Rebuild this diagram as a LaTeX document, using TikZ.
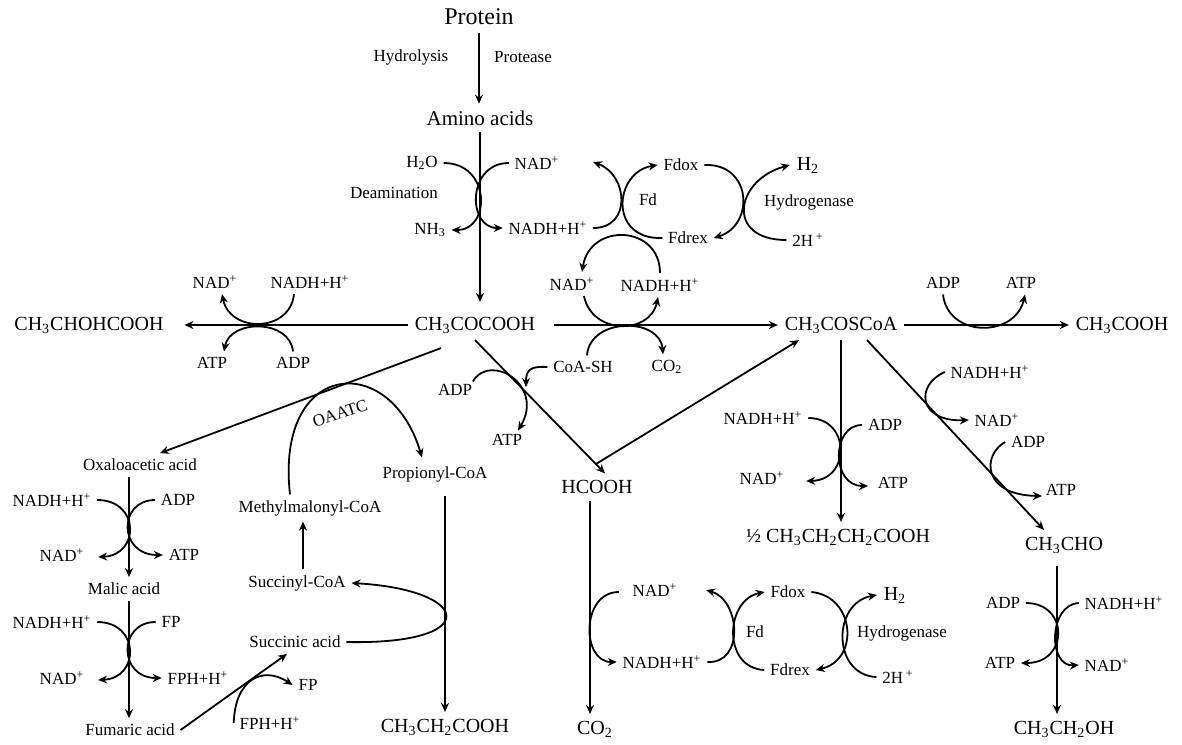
\documentclass[tikz,border=0pt]{standalone}
\usepackage{fontspec}
\setmainfont{Liberation Serif}
\usetikzlibrary{arrows.meta, positioning, calc}

\tikzset{
    chem/.style={font=\fontsize{10}{12}\selectfont, inner sep=3pt},
    cofac/.style={font=\fontsize{8.5}{10}\selectfont, inner sep=2.5pt},
}

\begin{document}
\begin{tikzpicture}[x=0.5pt, y=-0.5pt, >={Stealth[length=4.5pt,width=4pt]}, line width=0.9pt]
    \useasboundingbox (0,0) rectangle (1182,744);

    % protein -> pyruvate
    \node[font=\fontsize{12}{14}\selectfont] (protein) at (479,17) {Protein};
    \node[cofac] (hydro) at (411,57) {Hydrolysis};
    \node[cofac] (protease) at (523,57) {Protease};
    \node[chem, font=\fontsize{10.5}{13}\selectfont] (amino) at (480,118) {Amino acids};
    \node[chem] (pyr) at (475,325) {CH\textsubscript{3}COCOOH};
    \draw[->] (protein.south) -- (protein.south |- amino.north);
    \draw[->, shorten >=4pt] (amino.south) -- (amino.south |- pyr.north);

    \node[cofac] (h2o) at (422,163) {H\textsubscript{2}O};
    \node[cofac] (deam) at (394,193) {Deamination};
    \node[cofac] (nh3) at (430,230) {NH\textsubscript{3}};
    \node[cofac] (nadA) at (537,163) {NAD\textsuperscript{+}};
    \node[cofac] (nadhA) at (548,228) {NADH+H\textsuperscript{+}};
    \draw[->] (h2o.east) .. controls (491,163) and (491,230) .. (nh3.east);
    \draw[->] (nadA.west) .. controls (467,163) and (467,228) .. (nadhA.west);

    % ferredoxin and hydrogenase, top
    \node[cofac] (fd1) at (648,200) {Fd};
    \node[cofac] (fdox1) at (681,165) {Fdox};
    \node[cofac] (fdrex1) at (688,238) {Fdrex};
    \node[chem] (h2a) at (808,165) {H\textsubscript{2}};
    \node[cofac] (hyd1) at (809,202) {Hydrogenase};
    \node[cofac] (twoh1) at (808,240) {2H\,\textsuperscript{+}};
    \node[cofac] (nadB) at (572,284) {NAD\textsuperscript{+}};
    \node[cofac] (nadhB) at (660,285) {NADH+H\textsuperscript{+}};
    \draw[->] (nadhA.east) .. controls (632,228) and (628,175) .. ($(nadA.east)+(28,-1)$);
    \draw[->] (fdrex1.west) .. controls (608,240) and (614,172) .. (fdox1.west);
    \draw[->] (nadhB.north) .. controls (660,225) and (590,222) .. ($(nadB.north)+(10,0)$);
    \draw[->] (fdox1.east) .. controls (752,163) and (755,225) .. (fdrex1.east);
    \draw[->] (twoh1.west) .. controls (725,240) and (735,180) .. (h2a.west);

    % pyruvate -> acetyl-CoA
    \node[cofac] (coash) at (583,367) {CoA-SH};
    \node[cofac] (co2a) at (667,367) {CO\textsubscript{2}};
    \node[chem] (acoa) at (841,325) {CH\textsubscript{3}COSCoA};
    \coordinate (hookend) at (526,387);
    \draw[->, shorten <=6pt] (pyr.east) -- (acoa.west);
    \draw[->] ($(nadB.south)+(12,0)$) .. controls (592,335) and (650,335) .. ($(nadhB.south)+(-2,0)$);
    \draw[->] ($(coash.north)+(4,0)$) .. controls (590,317) and (660,317) .. ($(co2a.north)+(-4,0)$);
    \draw[->] (coash.west) .. controls (530,366) and (526,370) .. (hookend);

    % formate branch
    \node[cofac] (adpM) at (455,390) {ADP};
    \node[cofac] (atpM) at (507,440) {ATP};
    \node[chem] (hcooh) at (597,487) {HCOOH};
    \draw[->] (pyr.south) -- ([xshift=4pt]hcooh.north);
    \draw[->] ($(adpM.north east)+(-5,3)$) .. controls (490,352) and (545,385) .. ($(atpM.north)+(11,2)$);
    \coordinate (turn) at ($(pyr.south)!0.93!([xshift=4pt]hcooh.north)$);
    \draw[->] (turn) -- ([xshift=-21pt]acoa.south);

    % lactate
    \node[chem] (lac) at (89,325) {CH\textsubscript{3}CHOHCOOH};
    \node[cofac] (nadL) at (215,282) {NAD\textsuperscript{+}};
    \node[cofac] (nadhL) at (310,282) {NADH+H\textsuperscript{+}};
    \node[cofac] (atpL) at (212,363) {ATP};
    \node[cofac] (adpL) at (293,363) {ADP};
    \draw[->, shorten >=7pt] (pyr.west) -- (lac.east);
    \draw[->] ($(nadhL.south)+(-16,0)$) .. controls (290,333) and (230,333) .. ($(nadL.south)+(7,0)$);
    \draw[->] (adpL.north) .. controls (290,319) and (230,319) .. ($(atpL.north)+(12,0)$);

    % acetate
    \node[chem] (acet) at (1122,325) {CH\textsubscript{3}COOH};
    \node[cofac] (adpR) at (943,283) {ADP};
    \node[cofac] (atpR) at (1021,283) {ATP};
    \draw[->] (acoa.east) -- (acoa.east -| acet.west);
    \draw[->] (adpR.south) .. controls (948,338) and (1015,338) .. ($(atpR.south)+(4,0)$);

    % propionate
    \node[cofac] (oaa) at (140,465) {Oxaloacetic acid};
    \node[cofac] (prop) at (435,474) {Propionyl-CoA};
    \node[cofac] (mmcoa) at (310,508) {Methylmalonyl-CoA};
    \node[cofac, rotate=18] (oaatc) at (340,413) {OAATC};
    \node[cofac] (sucoa) at (297,583) {Succinyl-CoA};
    \node[cofac] (sucac) at (295,642) {Succinic acid};
    \node[chem] (propac) at (445,727) {CH\textsubscript{3}CH\textsubscript{2}COOH};
    \draw[->] ([xshift=-17pt,yshift=-4pt]pyr.south) -- ([xshift=10pt]oaa.north);
    \draw[->] ($(mmcoa.north)+(-20,0)$) .. controls (275,360) and (390,350) .. ($(prop.north)+(-13,-3)$);
    \draw[->] ($(sucoa.north)+(6,0)$) -- ($(sucoa.north |- mmcoa.south)+(6,0)$);
    \draw[->] (sucac.east) .. controls (483,645) and (473,590) .. (sucoa.east);
    \draw[->, shorten <=4pt] (propac.north |- prop.south) -- (propac.north);

    % oxaloacetate -> fumarate
    \node[cofac] (nadhO) at (52,500) {NADH+H\textsuperscript{+}};
    \node[cofac] (adpO) at (178,500) {ADP};
    \node[cofac] (nadO) at (62,555) {NAD\textsuperscript{+}};
    \node[cofac] (atpO) at (184,555) {ATP};
    \node[cofac] (malic) at (124,589) {Malic acid};
    \node[cofac] (nadhM) at (52,622) {NADH+H\textsuperscript{+}};
    \node[cofac] (fpM) at (171,622) {FP};
    \node[cofac] (nadM) at (62,678) {NAD\textsuperscript{+}};
    \node[cofac] (fphM) at (198,678) {FPH+H\textsuperscript{+}};
    \node[cofac] (fum) at (130,730) {Fumaric acid};
    \coordinate (colL) at ($(oaa.south)+(-11,0)$);
    \draw[->] (colL) -- (colL |- malic.north);
    \draw[->] (colL |- malic.south) -- (colL |- fum.north);
    \draw[->] (nadhO.east) .. controls (140,500) and (140,555) .. ($(nadO.east)+(8,2)$);
    \draw[->] (adpO.west) .. controls (118,500) and (118,555) .. (atpO.west);
    \draw[->] (nadhM.east) .. controls (140,622) and (140,678) .. ($(nadM.east)+(8,2)$);
    \draw[->] (fpM.west) .. controls (118,622) and (118,678) .. (fphM.west);

    \node[cofac] (fph2) at (270,723) {FPH+H\textsuperscript{+}};
    \node[cofac] (fp2) at (308,685) {FP};
    \draw[->] (fum.east) -- ([xshift=-4pt]sucac.south);
    \draw[->] (fph2.west) .. controls (235,680) and (262,665) .. (fp2.west);

    % formate -> CO2 + H2
    \node[chem] (co2b) at (595,729) {CO\textsubscript{2}};
    \node[cofac] (nadC) at (655,590) {NAD\textsuperscript{+}};
    \node[cofac] (nadhC) at (662,662) {NADH+H\textsuperscript{+}};
    \node[cofac] (fd2) at (755,632) {Fd};
    \node[cofac] (fdox2) at (788,592) {Fdox};
    \node[cofac] (fdrex2) at (790,670) {Fdrex};
    \node[chem] (h2b) at (895,595) {H\textsubscript{2}};
    \node[cofac] (hyd2) at (902,633) {Hydrogenase};
    \node[cofac] (twoh2) at (898,677) {2H\,\textsuperscript{+}};
    \coordinate (colF) at ($(hcooh.south)+(-7,0)$);
    \draw[->] (colF) -- (colF |- co2b.north);
    \draw[->] ($(nadC.west)+(-8,2)$) .. controls (581,592) and (581,662) .. (nadhC.west);
    \draw[->] (nadhC.east) .. controls (745,664) and (740,600) .. ($(nadC.east)+(23,0)$);
    \draw[->] (fdrex2.west) .. controls (722,668) and (725,600) .. (fdox2.west);
    \draw[->] (fdox2.east) .. controls (855,596) and (860,660) .. (fdrex2.east);
    \draw[->] (twoh2.west) .. controls (832,675) and (832,603) .. (h2b.west);

    % butyrate
    \node[chem] (buty) at (838,537) {½ CH\textsubscript{3}CH\textsubscript{2}CH\textsubscript{2}COOH};
    \node[cofac] (nadhR1) at (763,418) {NADH+H\textsuperscript{+}};
    \node[cofac] (adpR1) at (885,425) {ADP};
    \node[cofac] (nadR1) at (762,478) {NAD\textsuperscript{+}};
    \node[cofac] (atpR1) at (893,483) {ATP};
    \draw[->] (acoa.south) -- (acoa.south |- buty.north);
    \draw[->] (nadhR1.east) .. controls (851,418) and (851,480) .. ($(nadR1.east)+(16,3)$);
    \draw[->] (adpR1.west) .. controls (831,425) and (831,486) .. ($(atpR1.west)+(-4,3)$);

    % acetaldehyde -> ethanol
    \node[chem] (ald) at (1064,545) {CH\textsubscript{3}CHO};
    \node[cofac] (nadhD) at (990,372) {NADH+H\textsuperscript{+}};
    \node[cofac] (nadD) at (997,420) {NAD\textsuperscript{+}};
    \node[cofac] (adpD) at (1028,442) {ADP};
    \node[cofac] (atpD) at (1061,490) {ATP};
    \draw[->] ([xshift=13pt]acoa.south) -- ([xshift=-10pt]ald.north);
    \draw[->] (nadhD.west) .. controls (915,385) and (918,422) .. (nadD.west);
    \draw[->] (adpD.west) .. controls (982,455) and (982,495) .. ($(atpD.west)+(2,6)$);

    \node[chem] (etoh) at (1064,729) {CH\textsubscript{3}CH\textsubscript{2}OH};
    \node[cofac] (adpE) at (1003,603) {ADP};
    \node[cofac] (nadhE) at (1124,603) {NADH+H\textsuperscript{+}};
    \node[cofac] (atpE) at (1000,663) {ATP};
    \node[cofac] (nadE) at (1107,665) {NAD\textsuperscript{+}};
    \coordinate (colE) at ($(ald.south)+(-7,0)$);
    \draw[->, shorten <=3pt] (colE) -- (colE |- etoh.north);
    \draw[->] (adpE.east) .. controls (1069,603) and (1069,663) .. (atpE.east);
    \draw[->] (nadhE.west) .. controls (1048,605) and (1048,667) .. (nadE.west);
\end{tikzpicture}
\end{document}
